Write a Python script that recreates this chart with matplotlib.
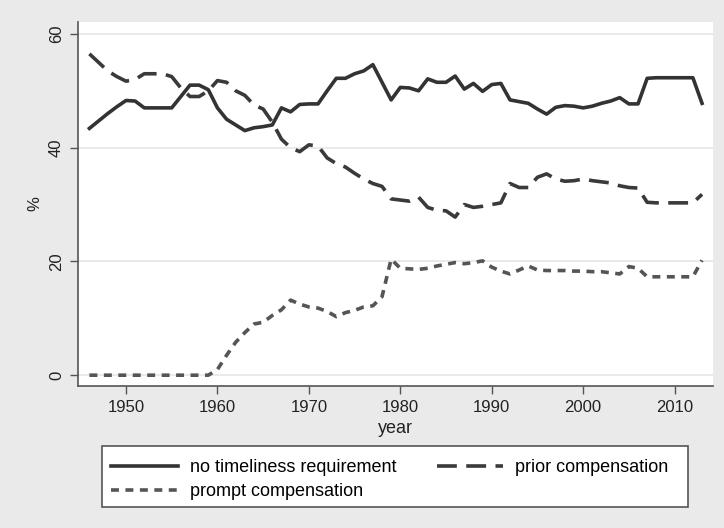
import matplotlib
matplotlib.use("Agg")
import matplotlib.pyplot as plt
from matplotlib.patches import Rectangle

years = list(range(1946, 2014))

no_timeliness = [
    43.4, 44.7, 46.0, 47.2, 48.3, 48.2, 47.0, 47.0, 47.0, 47.0,
    49.0, 51.0, 51.0, 50.2, 47.0, 45.0, 44.0, 43.0, 43.5, 43.7,
    44.0, 47.0, 46.3, 47.6, 47.7, 47.7, 50.0, 52.2, 52.2, 53.0,
    53.5, 54.6, 51.5, 48.4, 50.6, 50.5, 50.0, 52.1, 51.5, 51.5,
    52.6, 50.3, 51.3, 49.9, 51.1, 51.3, 48.4, 48.1, 47.8, 46.8,
    45.9, 47.1, 47.4, 47.3, 47.0, 47.3, 47.8, 48.2, 48.8, 47.7,
    47.7, 52.2, 52.3, 52.3, 52.3, 52.3, 52.3, 47.8,
]

prior_comp = [
    56.5, 55.0, 53.5, 52.5, 51.7, 52.0, 53.0, 53.0, 53.0, 52.5,
    50.5, 49.0, 49.0, 50.0, 51.8, 51.5, 50.0, 49.2, 47.5, 46.8,
    44.5, 41.5, 40.0, 39.3, 40.5, 40.3, 38.2, 37.2, 36.6, 35.5,
    34.5, 33.7, 33.2, 31.0, 30.8, 30.6, 31.3, 29.5, 29.0, 28.9,
    27.8, 30.0, 29.5, 29.7, 30.0, 30.3, 33.7, 33.0, 33.0, 34.8,
    35.4, 34.5, 34.1, 34.2, 34.5, 34.2, 34.0, 33.8, 33.3, 33.0,
    32.9, 30.4, 30.3, 30.3, 30.3, 30.3, 30.3, 31.8,
]

prompt_comp = [
    0.0, 0.0, 0.0, 0.0, 0.0, 0.0, 0.0, 0.0, 0.0, 0.0,
    0.0, 0.0, 0.0, 0.0, 1.0, 3.5, 5.8, 7.5, 9.0, 9.3,
    10.5, 11.5, 13.2, 12.5, 12.0, 11.8, 11.2, 10.3, 11.0, 11.4,
    12.0, 12.2, 13.8, 20.4, 18.8, 18.7, 18.6, 18.8, 19.2, 19.5,
    19.8, 19.6, 19.8, 20.1, 19.0, 18.3, 17.8, 18.5, 19.2, 18.5,
    18.4, 18.4, 18.4, 18.3, 18.3, 18.2, 18.2, 18.0, 17.8, 19.1,
    18.8, 17.3, 17.3, 17.3, 17.3, 17.3, 17.3, 20.2,
]

labels = ["no timeliness requirement", "prior compensation", "prompt compensation"]
x_ticks = [1950, 1960, 1970, 1980, 1990, 2000, 2010]
y_ticks = [0, 20, 40, 60]

plt.rcParams['font.family'] = ['Liberation Sans', 'DejaVu Sans']

W, H = 724, 528
fig = plt.figure(figsize=(W/100, H/100), dpi=100, facecolor='#eaeaea')
ax = fig.add_axes([78/W, 1 - 386/H, (713 - 78)/W, (386 - 22)/H])
ax.set_facecolor('white')

lw = 2.6
l1, = ax.plot(years, no_timeliness, color='#333333', lw=lw, solid_joinstyle='round',
              label=labels[0])
l2, = ax.plot(years, prior_comp, color='#3a3a3a', lw=lw, dashes=(5.5, 2.6),
              label=labels[1])
l3, = ax.plot(years, prompt_comp, color='#555555', lw=lw, dashes=(2.2, 1.8),
              label=labels[2])

ax.set_xlim(1944.75, 2014.2)
ax.set_ylim(-1.9, 62.1)
ax.set_xticks(x_ticks)
ax.set_yticks(y_ticks)
ax.grid(axis='y', color='#e6e6e6', lw=1.2)
ax.set_axisbelow(True)

for s in ['top', 'right']:
    ax.spines[s].set_visible(False)
for s in ['left', 'bottom']:
    ax.spines[s].set_color('#555555')
    ax.spines[s].set_linewidth(1.2)

ax.tick_params(axis='both', colors='#555555', labelcolor='#222222', labelsize=12,
               length=6, width=1.0, pad=4)
for t in ax.get_yticklabels():
    t.set_rotation(90)
    t.set_va('center')

ax.set_xlabel('year', fontsize=13, color='#222222', labelpad=4)
ax.set_ylabel('%', fontsize=12, color='#222222', labelpad=5)

# legend box drawn by hand so its edges match the original
box = Rectangle((102/W, 1 - 507/H), (688 - 102)/W, (507 - 446)/H, transform=fig.transFigure,
                facecolor='white', edgecolor='#555555', lw=1.2, zorder=1)
fig.patches.append(box)

# column-first fill: put prompt under the first entry
leg = fig.legend(handles=[l1, l3, l2], labels=[labels[0], labels[2], labels[1]],
                 ncol=2, loc='upper left', bbox_to_anchor=(111/W, 1 - 459/H),
                 fontsize=13, handlelength=3.7, handletextpad=0.65, columnspacing=2.25,
                 frameon=False, borderpad=0, labelspacing=0.38, borderaxespad=0)
leg.set_zorder(2)

fig.savefig('out.png', dpi=100, facecolor=fig.get_facecolor())
